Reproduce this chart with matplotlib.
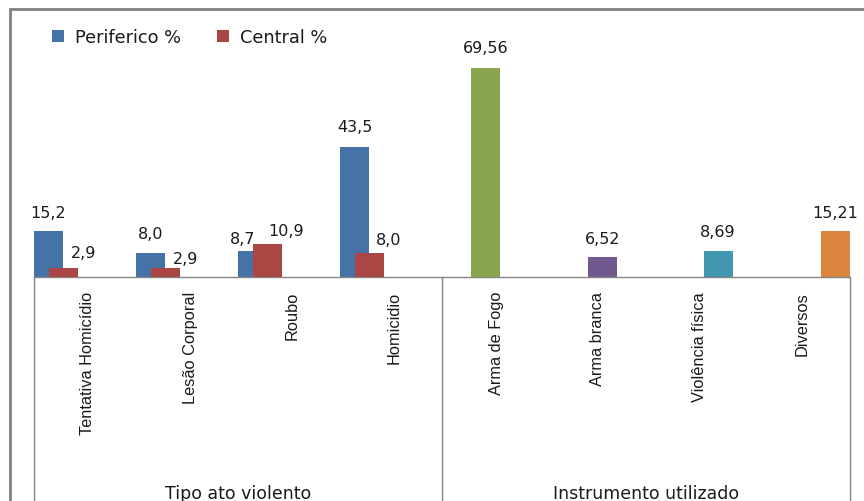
import matplotlib.pyplot as plt
from matplotlib.patches import Rectangle
from matplotlib.transforms import blended_transform_factory

# dados
tipo_labels = ["Tentativa Homicídio", "Lesão Corporal", "Roubo", "Homicidio"]
periferico = [15.2, 8.0, 8.7, 43.5]
central = [2.9, 2.9, 10.9, 8.0]

instr_labels = ["Arma de Fogo", "Arma branca", "Violência física", "Diversos"]
instrumento = [69.56, 6.52, 8.69, 15.21]

grupos = ["Tipo ato violento", "Instrumento utilizado"]

# cores (paleta Excel 2007)
cor_per = "#4572A7"
cor_cen = "#AA4643"
cores_instr = ["#89A54E", "#71588F", "#4198AF", "#DB843D"]

W, H = 864, 502
fig = plt.figure(figsize=(W / 100, H / 100), dpi=100)
ax = fig.add_axes([34 / W, 1 - 278 / H, (850 - 34) / W, 240 / H])

largura = 0.285
passo = 0.143
n_tipo = len(tipo_labels)

# barras (6 séries sobrepostas, sem espaço entre categorias)
xs = list(range(n_tipo))
b1 = ax.bar([x + 0 * passo for x in xs], periferico, largura, align="edge",
            color=cor_per, label="Periferico %", zorder=2)
b2 = ax.bar([x + 1 * passo for x in xs], central, largura, align="edge",
            color=cor_cen, label="Central %", zorder=3)
b_instr = []
for k, (v, c) in enumerate(zip(instrumento, cores_instr)):
    b = ax.bar(n_tipo + k + (2 + k) * passo, v, largura, align="edge",
               color=c, zorder=2)
    b_instr.append(b[0])

ax.set_xlim(0, n_tipo + len(instr_labels))
ax.set_ylim(0, 80)
ax.set_yticks([])
ax.set_xticks([])
for s in ["top", "left", "right"]:
    ax.spines[s].set_visible(False)
ax.spines["bottom"].set_color("#868686")
ax.spines["bottom"].set_linewidth(1)


def fmt(v, nd):
    return f"{v:.{nd}f}".replace(".", ",")


# rótulos de dados (alguns foram deslocados à mão no original)
desloc_per = [(0, 14), (0, 15), (-10, 8), (0, 15)]
desloc_cen = [(20, 11), (20, 5), (19, 9), (20, 9)]
desloc_instr = [(0, 16), (0, 14), (-1, 15), (0, 14)]

fonte_num = dict(family="DejaVu Sans", fontsize=11.5, color="#1a1a1a")


def rotula(rect, txt, d):
    ax.annotate(txt, (rect.get_x() + rect.get_width() / 2, rect.get_height()),
                xytext=d, textcoords="offset pixels", ha="center",
                va="baseline", annotation_clip=False, **fonte_num)


for r, v, d in zip(b1, periferico, desloc_per):
    rotula(r, fmt(v, 1), d)
for r, v, d in zip(b2, central, desloc_cen):
    rotula(r, fmt(v, 1), d)
for r, v, d in zip(b_instr, instrumento, desloc_instr):
    rotula(r, fmt(v, 2), d)

# eixo de categorias em dois níveis
trans = blended_transform_factory(ax.transData, ax.transAxes)
for xv in [0, n_tipo, n_tipo + len(instr_labels)]:
    ax.plot([xv, xv], [0, -1], transform=trans, color="#868686", lw=1,
            clip_on=False)

for i, lab in enumerate(tipo_labels + instr_labels):
    ax.annotate(lab, (i + 0.5, 0), xycoords=trans, xytext=(3, -14),
                textcoords="offset pixels", rotation=90, ha="center",
                va="top", fontsize=11.8, family=["Liberation Sans", "DejaVu Sans"],
                color="#1a1a1a", annotation_clip=False)

for g, lab in enumerate(grupos):
    ax.annotate(lab, (g * n_tipo + n_tipo / 2, 0), xycoords=trans,
                xytext=(0, -221), textcoords="offset pixels", ha="center",
                va="baseline", fontsize=12.5, family="DejaVu Sans",
                color="#1a1a1a", annotation_clip=False)

# legenda
ax.legend(loc="upper left", bbox_to_anchor=(36 / W, 1 - 13 / H),
          bbox_transform=fig.transFigure, ncol=2, frameon=False,
          handlelength=0.7, handleheight=0.7, handletextpad=0.6,
          columnspacing=2.0, prop=dict(family="DejaVu Sans", size=12.8),
          labelcolor="#1a1a1a")

# borda da área do gráfico (cortada à direita e embaixo)
fig.patches.append(Rectangle((10 / W, -0.1), 1.1, 1 - 10 / H + 0.1,
                             transform=fig.transFigure, fill=False,
                             edgecolor="#808080", lw=2))

fig.savefig("out.png", dpi=100)
